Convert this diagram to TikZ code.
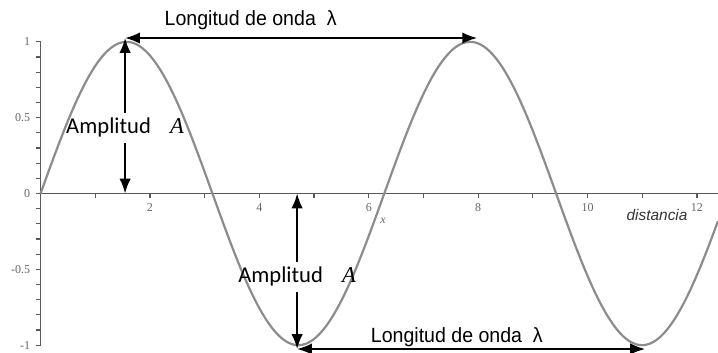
\documentclass[tikz,border=0pt]{standalone}
\usepackage{fontspec}
\setmainfont{Liberation Serif}
\setsansfont{Liberation Sans}
\newfontfamily\amplfont{Carlito}
\usetikzlibrary{arrows.meta}

\tikzset{
  axisline/.style={draw=black!65, line width=0.6pt},
  wave/.style={draw=black!45, line width=1.1pt},
  dim/.style={black, line width=0.9pt, -{Latex[length=2.6mm, width=2mm]}},
  dimboth/.style={dim, {Latex[length=2.6mm, width=2mm]}-{Latex[length=2.6mm, width=2mm]}},
  ticklabel/.style={font=\fontsize{6}{7}\selectfont, text=black!60, inner sep=1pt},
  longlabel/.style={font=\sffamily\fontsize{10.3}{12}\selectfont, xscale=0.95, inner sep=0pt},
  amplabel/.style={font=\amplfont\fontsize{11.3}{13}\selectfont, inner sep=2.5pt}
}

\begin{document}
\begin{tikzpicture}[x=27.35pt, y=75.85pt]

  \useasboundingbox (-0.742,-1.0514) rectangle (12.384,1.2755);

  % ejes
  \draw[axisline] (0,0) -- (12.384,0);
  \draw[axisline] (0,-1) -- (0,1);
  \foreach \i in {-10,...,10}
  \draw[axisline] (0,\i/10) -- ++(-2.5pt,0);
  \foreach \y/\t in {1/1, 0.5/0.5, 0/0, -0.5/-0.5, -1/-1}
  \node[ticklabel, anchor=east] (ly\t) at ([xshift=-4pt]0,\y) {\t};
  \foreach \i in {1,...,12}
  \draw[axisline] (\i,0) -- ++(0,-2pt);
  \foreach \x in {2,4,...,12}
  \node[ticklabel, anchor=north] (lx\x) at ([yshift=-4pt]\x,0) {\x};
  \node[ticklabel, font=\itshape\fontsize{6}{7}\selectfont] (xname) at (6.26,-0.18) {x};
  \node[font=\sffamily\itshape\fontsize{7.7}{9}\selectfont, text=black!80] (dist) at (11.27,-0.142) {distancia};

  % onda
  \draw[wave, domain=0:12.384, samples=200] plot (\x,{sin(\x r)});

  \coordinate (pk1) at (1.545,1.025);
  \coordinate (pk2) at (7.98,1.025);
  \coordinate (tr1) at (4.69,-1.025);
  \coordinate (tr2) at (11.05,-1.025);
  \coordinate (ax1) at (1.545,0);
  \coordinate (ax2) at (4.69,0);

  % amplitud
  \node[amplabel] (amp1) at (1.545,0.432) {Amplitud\hspace{0.85em}{\rmfamily\itshape A}};
  \draw[dim] (amp1.north) -- (pk1);
  \draw[dim] (amp1.south) -- (ax1);

  \node[amplabel] (amp2) at (4.69,-0.55) {Amplitud\hspace{0.85em}{\rmfamily\itshape A}};
  \draw[dim] (amp2.north) -- (ax2);
  \draw[dim] (amp2.south) -- (tr1);

  % longitud de onda
  \node[longlabel] (lam1) at (3.84,1.144) {Longitud de onda~~λ};
  \draw[dimboth] (pk1) -- (pk2);

  \node[longlabel] (lam2) at (7.61,-0.946) {Longitud de onda~~λ};
  \draw[dimboth] (tr1) -- (tr2);

\end{tikzpicture}
\end{document}
